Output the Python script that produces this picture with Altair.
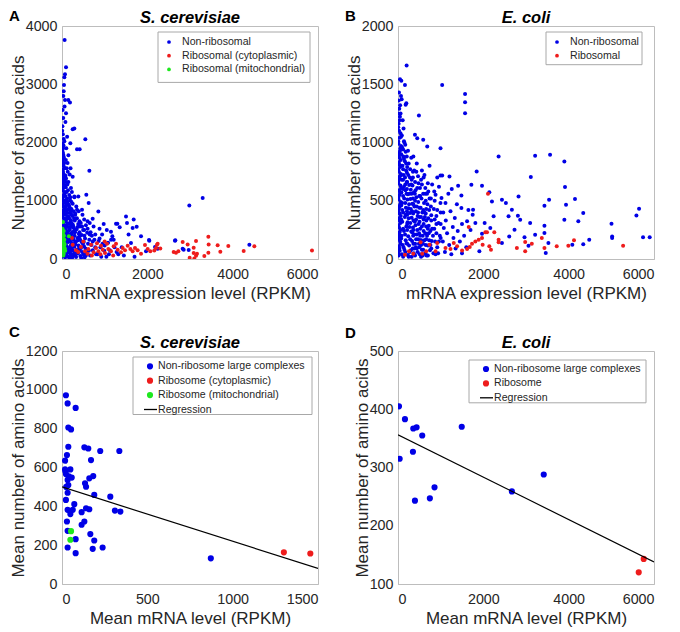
import altair as alt
import pandas as pd

# ---------------- data ----------------
# Panel A: S. cerevisiae, individual proteins (mRNA RPKM, number of amino acids)
A_nonribosomal = [
    (8, 40), (30, 95), (15, 150), (45, 205), (10, 260), (35, 320), (20, 375), (50, 430), (12, 490), (38, 545),
    (22, 600), (55, 655), (8, 710), (32, 770), (18, 825), (48, 880), (12, 940), (36, 1000), (20, 1060), (52, 1115),
    (10, 1175), (30, 1235), (16, 1290), (44, 1350), (8, 1410), (28, 1470), (14, 1530), (40, 1590), (20, 1650),
    (10, 1710), (34, 1770), (18, 1830), (26, 1900), (12, 1980), (40, 2060), (20, 2140), (10, 2280), (30, 2420),
    (15, 2560), (50, 1650), (60, 1380), (55, 1250),
    (62, 3760), (94, 3291), (70, 3171), (55, 3120), (47, 2989), (31, 2800), (70, 2731), (148, 2731), (187, 2686),
    (94, 2503), (250, 2229), (289, 2240), (195, 1989), (547, 2057), (352, 1886), (414, 1886), (641, 1514),
    (250, 1411), (120, 2100), (80, 2350), (60, 2620), (40, 2880), (100, 1900), (150, 1780), (130, 1650),
    (200, 1560), (180, 1450),
    (75, 30), (105, 90), (85, 150), (115, 210), (70, 270), (100, 330), (80, 395), (110, 450), (72, 515), (98, 575),
    (88, 640), (118, 700), (76, 760), (104, 825), (84, 890), (112, 950), (92, 1015), (78, 1080), (108, 1150),
    (86, 1230), (100, 1320), (82, 1430), (110, 1560), (90, 1700),
    (150, 40), (185, 100), (160, 165), (200, 225), (145, 290), (175, 350), (205, 415), (155, 480), (190, 540),
    (165, 600), (210, 665), (148, 730), (182, 790), (200, 860), (160, 930), (190, 1010), (170, 1100), (210, 1220),
    (150, 1320),
    (240, 25), (275, 90), (250, 150), (290, 210), (235, 275), (265, 340), (295, 400), (245, 465), (280, 530),
    (255, 590), (300, 660), (240, 740), (270, 820), (250, 950), (290, 1060), (232, 1150),
    (330, 35), (370, 100), (345, 160), (390, 230), (325, 290), (360, 360), (395, 430), (340, 510), (380, 600),
    (350, 700), (390, 820), (335, 900), (383, 1074), (352, 846), (289, 1074),
    (430, 50), (470, 120), (445, 190), (490, 260), (425, 330), (460, 410), (495, 500), (440, 620), (480, 760),
    (469, 846),
    (530, 30), (580, 110), (550, 180), (610, 260), (540, 350), (590, 450), (560, 580), (570, 1103), (625, 960),
    (600, 650),
    (660, 60), (720, 150), (690, 240), (760, 330), (670, 460), (740, 560), (719, 691), (700, 400), (780, 200),
    (830, 80), (900, 200), (860, 310), (940, 420), (852, 817), (977, 600), (880, 520), (990, 140), (920, 40),
    (1040, 40), (1120, 150), (1080, 280), (1180, 390), (1148, 469), (1266, 606), (1211, 330), (1280, 120),
    (1050, 500),
    (1352, 543), (1500, 731), (1523, 617), (1680, 680), (1656, 531), (1617, 274), (1852, 389), (2047, 314),
    (2648, 314), (2984, 920), (3297, 1046), (2852, 160), (4391, 246), (2242, 177), (1969, 131), (1400, 200),
    (1560, 420), (1750, 554), (2039, 326), (1297, 605), (2180, 206), (2656, 320), (2828, 177), (2969, 154),
    (1320, 80), (1450, 60), (1700, 40),
    # denser fill of the crowded corner
    (5, 70), (25, 130), (40, 180), (60, 240), (18, 300), (50, 350), (28, 400), (62, 460), (5, 520), (45, 570),
    (30, 630), (65, 690), (15, 740), (42, 800), (60, 850), (25, 910), (55, 970), (5, 1030), (38, 1090),
    (62, 1150), (25, 1210), (58, 1270), (35, 1320), (5, 1380), (48, 1440), (22, 1500), (60, 1560), (30, 1620),
    (5, 1680), (45, 1740), (25, 1800), (8, 1860), (35, 1950), (55, 2020), (5, 2200),
    (95, 60), (125, 120), (135, 180), (95, 240), (130, 300), (120, 370), (140, 430), (92, 490), (128, 550),
    (135, 610), (95, 670), (130, 730), (120, 790), (140, 850), (96, 920), (130, 980), (120, 1040), (140, 1180),
    (125, 1280), (95, 1380), (135, 1500),
    (175, 20), (215, 70), (195, 130), (170, 190), (220, 250), (190, 310), (165, 380), (225, 440), (180, 505),
    (218, 570), (195, 630), (170, 695), (225, 760), (205, 820), (172, 900), (222, 980), (195, 1060),
    (260, 60), (300, 120), (225, 180), (275, 245), (310, 300), (250, 370), (220, 430), (300, 490), (265, 560),
    (225, 620), (285, 700), (310, 780), (220, 860),
    (310, 60), (355, 130), (400, 190), (310, 250), (375, 320), (415, 390), (305, 460), (365, 550), (410, 650),
    (310, 760), (420, 560),
    (450, 20), (500, 80), (410, 150), (515, 220), (460, 290), (410, 460), (525, 400), (470, 560), (520, 680),
    (560, 60), (630, 140), (510, 290), (640, 330), (600, 520), (520, 500), (650, 420),
    (780, 420), (800, 80), (720, 300), (650, 620), (880, 350), (950, 260), (1000, 230), (1100, 80), (1150, 330),
    (1230, 200),
]
A_ribo_cyto = [
    (250, 246), (328, 149), (445, 206), (539, 131), (617, 171), (680, 246), (742, 114), (797, 189), (852, 131),
    (914, 229), (953, 160), (1008, 103), (1055, 263), (1086, 171), (1148, 131), (1211, 217), (1266, 263),
    (1305, 160), (1383, 114), (1422, 189), (1477, 149), (1539, 229), (1602, 171), (1656, 131), (1711, 189),
    (1773, 149), (1852, 91), (1945, 240), (2008, 171), (2070, 131), (2203, 189), (2242, 263), (234, 360),
    (2226, 245), (2164, 148), (2304, 182), (2617, 120), (2672, 109), (2727, 131), (2828, 292), (2945, 250),
    (3086, 194), (3141, 309), (3086, 102), (3164, 91), (3141, 57), (2992, 22), (3101, 10), (3430, 382),
    (3437, 250), (3430, 108), (3336, 51), (3648, 234), (3711, 125), (3898, 222), (4258, 137), (4508, 217),
    (5859, 148), (380, 120), (600, 90), (700, 60), (900, 80), (1200, 60), (1000, 300), (500, 300), (820, 270),
]
A_ribo_mito = [
    (23, 634), (40, 480), (20, 440), (45, 400), (15, 370), (35, 340), (25, 300), (50, 270), (18, 240), (38, 210),
    (28, 180), (48, 150), (20, 120), (40, 90), (30, 60), (55, 330), (60, 250), (12, 520), (65, 180), (75, 140),
    (30, 400), (45, 200), (160, 390),
]

# Panel B: E. coli, individual proteins
B_nonribosomal = [
    (15, 30), (40, 70), (20, 110), (50, 150), (10, 190), (35, 230), (25, 270), (55, 310), (12, 350), (42, 390),
    (22, 430), (52, 470), (14, 510), (38, 550), (28, 590), (58, 630), (10, 670), (44, 710), (20, 750), (50, 790),
    (16, 830), (36, 870), (26, 910), (56, 950), (12, 990), (40, 1040), (24, 1100), (15, 1160), (45, 1220),
    (30, 1290), (18, 1360), (23, 1429), (47, 1543), (78, 1529), (202, 1660), (163, 1494), (86, 1371),
    (179, 1323), (195, 1337), (60, 1250), (110, 1190), (130, 1120), (90, 1060), (150, 1000),
    (90, 40), (150, 80), (110, 120), (180, 160), (85, 200), (140, 240), (195, 280), (100, 320), (160, 360),
    (120, 400), (185, 440), (95, 480), (145, 520), (200, 560), (115, 600), (170, 640), (90, 680), (135, 720),
    (190, 760), (105, 800), (160, 840), (125, 880), (180, 920), (95, 960), (140, 1010),
    (230, 35), (300, 75), (260, 115), (330, 155), (240, 195), (310, 235), (270, 275), (225, 315), (320, 355),
    (280, 395), (245, 435), (335, 475), (290, 515), (230, 555), (300, 595), (260, 635), (320, 680), (240, 720),
    (285, 770), (250, 820), (310, 870), (235, 930), (397, 1066), (451, 1037), (490, 1231),
    (370, 50), (440, 90), (400, 130), (470, 170), (380, 210), (450, 250), (410, 290), (365, 330), (460, 370),
    (420, 410), (385, 450), (475, 490), (430, 530), (370, 570), (450, 610), (400, 660), (470, 710), (380, 760),
    (440, 820), (360, 880),
    (510, 40), (590, 80), (540, 120), (620, 160), (520, 200), (600, 240), (560, 280), (505, 320), (630, 360),
    (570, 400), (530, 440), (610, 480), (550, 520), (640, 560), (515, 610), (591, 1023), (685, 966), (600, 700),
    (560, 760),
    (670, 30), (750, 75), (700, 115), (790, 155), (680, 200), (760, 240), (720, 285), (665, 330), (780, 375),
    (730, 420), (690, 470), (770, 520), (710, 580), (800, 640), (740, 800),
    (830, 50), (920, 100), (870, 150), (980, 200), (850, 260), (950, 310), (900, 370), (840, 430), (995, 480),
    (880, 551), (960, 620), (996, 951), (920, 700),
    (1035, 1494), (1572, 1417), (1572, 1346), (1572, 1251), (2358, 880), (3214, 886), (3564, 894), (3899, 837),
    (3914, 617), (3113, 703), (1844, 751), (1206, 709), (996, 717), (1035, 717), (1409, 629), (1486, 546),
    (1720, 637), (1969, 629), (2140, 574), (2825, 537), (2436, 509), (1759, 423), (2202, 494), (3541, 509),
    (3432, 457), (3938, 466), (4148, 514), (4342, 394), (4226, 323), (3899, 337), (3097, 309), (2864, 337),
    (2810, 371), (2669, 423), (2529, 480), (2591, 366), (2731, 251), (3214, 209), (3432, 286), (3432, 223),
    (3525, 137), (3463, 51), (4086, 123), (4342, 126), (4482, 166), (5004, 303), (5019, 194), (5019, 180),
    (5588, 374), (5650, 431), (5743, 186), (5899, 186), (2436, 137), (2607, 194), (2965, 186), (3058, 114),
    (2163, 266), (2031, 309), (1969, 217), (1907, 66), (2241, 366), (1813, 309), (1619, 323), (1486, 437),
    (1331, 351), (1230, 409), (1113, 480), (1019, 523), (1284, 274), (1074, 266),
    (1050, 150), (1100, 60), (1150, 220), (1200, 120), (1250, 40), (1300, 180), (1350, 90), (1400, 240),
    (1450, 150), (1500, 300), (1550, 200), (1600, 100), (1700, 250), (1750, 380), (1650, 420), (1380, 470),
    (1180, 560), (1120, 330), (1060, 400), (1260, 600), (1500, 50),
    # denser fill of the crowded corner
    (5, 50), (30, 90), (60, 130), (5, 170), (25, 210), (62, 250), (8, 290), (40, 330), (65, 370), (5, 410),
    (35, 450), (66, 490), (5, 530), (48, 570), (70, 610), (5, 650), (30, 690), (65, 730), (5, 770), (32, 810),
    (64, 850), (5, 890), (48, 930), (70, 970), (5, 1010), (58, 1080), (5, 1130), (35, 1190), (8, 1250),
    (50, 1320), (70, 1400),
    (120, 20), (170, 60), (130, 100), (200, 135), (75, 175), (165, 210), (120, 260), (215, 300), (75, 340),
    (180, 380), (100, 420), (210, 410), (75, 460), (170, 480), (120, 540), (80, 570), (175, 590), (140, 620),
    (205, 660), (120, 680), (165, 700), (75, 720), (210, 740), (120, 770), (75, 800), (190, 820), (140, 860),
    (75, 900), (205, 880), (120, 940), (170, 980), (70, 1050),
    (250, 20), (275, 60), (345, 90), (215, 130), (285, 170), (355, 200), (215, 250), (350, 270), (290, 310),
    (250, 350), (355, 390), (215, 380), (300, 430), (260, 470), (220, 510), (350, 520), (320, 560), (270, 560),
    (210, 600), (340, 630), (280, 700), (215, 660), (350, 750), (215, 790),
    (400, 30), (460, 60), (420, 100), (360, 130), (490, 130), (425, 170), (360, 250), (495, 220), (440, 210),
    (485, 300), (425, 340), (500, 360), (360, 400), (440, 450), (500, 440), (400, 500), (360, 470), (500, 540),
    (410, 590), (480, 650), (350, 700), (430, 750),
    (540, 20), (640, 50), (560, 80), (500, 100), (585, 130), (650, 120), (545, 160), (580, 200), (640, 220),
    (520, 260), (600, 300), (660, 280), (540, 360), (600, 340), (660, 430), (590, 420), (650, 500), (520, 540),
    (590, 560), (560, 640), (640, 610),
    (700, 30), (780, 90), (730, 160), (660, 170), (720, 220), (800, 260), (650, 390), (710, 350), (770, 450),
    (740, 520), (680, 560),
    (880, 40), (960, 150), (900, 220), (1000, 300), (860, 340), (920, 420), (860, 500), (1000, 400),
    (320, 20), (380, 90), (330, 230), (395, 320), (330, 410), (395, 560), (310, 640), (470, 400), (520, 160),
    (580, 30), (620, 400), (700, 260), (760, 120), (820, 200), (850, 580), (900, 300), (940, 50), (1000, 180),
    (780, 330), (700, 650), (620, 720), (540, 680),
]
B_ribosomal = [
    (2109, 560), (1658, 274), (2047, 229), (2086, 229), (2257, 229), (2358, 166), (2358, 143), (1969, 180),
    (1984, 123), (2140, 109), (2179, 80), (1813, 151), (1735, 131), (1681, 103), (1619, 86), (1502, 74),
    (1385, 109), (1307, 137), (1230, 86), (1113, 94), (880, 66), (661, 66), (568, 46), (358, 46), (163, 37),
    (257, 66), (529, 143), (739, 123), (918, 137), (2786, 94), (2981, 146), (3136, 131), (3370, 180),
    (3432, 94), (2981, 66), (3720, 109), (3992, 114), (4125, 160), (5276, 114), (1891, 166),
]

# Panel C: S. cerevisiae complexes (mean mRNA, mean amino acids)
C_complexes = [
    (23, 972), (33, 930), (80, 907), (37, 806), (53, 796), (37, 707), (29, 664), (18, 635), (131, 704),
    (154, 698), (224, 685), (336, 685), (170, 638), (18, 590), (49, 590), (23, 566), (57, 548), (33, 536),
    (183, 556), (160, 544), (135, 519), (141, 501), (37, 510), (33, 470), (189, 459), (283, 450), (23, 433),
    (72, 411), (33, 382), (63, 382), (49, 360), (115, 370), (141, 390), (160, 385), (310, 378), (342, 373),
    (29, 322), (131, 322), (115, 305), (33, 274), (166, 257), (80, 231), (189, 224), (33, 188), (180, 181),
    (238, 188), (80, 159), (872, 132), (20, 580), (25, 500), (40, 555),
]
C_ribo_cyto = [(1300, 163), (1455, 157)]
C_ribo_mito = [(53, 272), (49, 228)]
C_regression = [(0, 500), (1500, 80)]

# Panel D: E. coli complexes
D_complexes = [
    (23, 405), (39, 315), (163, 383), (358, 367), (436, 369), (350, 327), (568, 355), (397, 243), (747, 247),
    (856, 266), (1494, 370), (2669, 259), (3416, 288),
]
D_ribosome = [(5759, 143), (5642, 120)]
D_regression = [(0, 356), (6000, 138)]

# ---------------- styling ----------------
FONT = "Liberation Sans"
TXT = "#262626"
BOX = "#bdbdbd"
BLUE = "#0000e6"
RED = "#ee1c1c"
GREEN = "#1ee81e"
W, H = 256, 233
one = pd.DataFrame({"k": [0]})


def xenc(dom, ticks, title):
    return alt.X("x:Q", scale=alt.Scale(domain=dom, nice=False, zero=False),
                 axis=alt.Axis(values=ticks, title=title, format="d"))


def yenc(dom, ticks, title):
    return alt.Y("y:Q", scale=alt.Scale(domain=dom, nice=False, zero=False),
                 axis=alt.Axis(values=ticks, title=title, format="d"))


def legend_layers(x0, x1, y0, rows, dot_size, row_h, top_pad, bottom_pad, dot_dx, text_dx):
    y1 = y0 + top_pad + row_h * (len(rows) - 1) + bottom_pad
    out = [alt.Chart(one).mark_rect(fill="white", stroke="#a8a8a8", strokeWidth=1).encode(
        x=alt.value(x0), x2=alt.value(x1), y=alt.value(y0), y2=alt.value(y1))]
    for i, (label, color, sym) in enumerate(rows):
        yy = y0 + top_pad + row_h * i
        if sym == "dot":
            out.append(alt.Chart(one).mark_circle(size=dot_size, color=color, opacity=1).encode(
                x=alt.value(x0 + dot_dx), y=alt.value(yy)))
        else:
            out.append(alt.Chart(one).mark_rule(color="black", strokeWidth=1.3).encode(
                x=alt.value(x0 + dot_dx - 6), x2=alt.value(x0 + text_dx - 1), y=alt.value(yy)))
        out.append(alt.Chart(one).mark_text(align="left", baseline="middle", font=FONT, fontSize=10.6,
                                            color=TXT).encode(
            x=alt.value(x0 + text_dx), y=alt.value(yy), text=alt.value(label)))
    return out


def panel(letter, letter_y, title, groups, xdom, xticks, xtitle, ydom, yticks, ytitle, size, legend, reg=None):
    X = xenc(xdom, xticks, xtitle)
    Y = yenc(ydom, yticks, ytitle)
    layers = []
    for pts, color in groups:
        df = pd.DataFrame(pts, columns=["x", "y"])
        layers.append(alt.Chart(df).mark_circle(size=size, color=color, opacity=1, clip=True).encode(x=X, y=Y))
    if reg is not None:
        rdf = pd.DataFrame(reg, columns=["x", "y"])
        layers.append(alt.Chart(rdf).mark_line(color="black", strokeWidth=1.2, clip=True).encode(x=X, y=Y))
    layers += legend
    layers.append(alt.Chart(one).mark_text(align="left", baseline="alphabetic", font=FONT, fontSize=15,
                                           fontWeight="bold", color="black").encode(
        x=alt.value(-53), y=alt.value(letter_y), text=alt.value(letter)))
    layers.append(alt.Chart(one).mark_text(align="center", baseline="alphabetic", font=FONT, fontSize=16.5,
                                           fontStyle="italic", fontWeight="bold", color="black").encode(
        x=alt.value(W / 2), y=alt.value(-3), text=alt.value(title)))
    return alt.layer(*layers).properties(width=W, height=H)


legA = legend_layers(96, 248, 6, [("Non-ribosomal", BLUE, "dot"), ("Ribosomal (cytoplasmic)", RED, "dot"),
                                  ("Ribosomal (mitochondrial)", GREEN, "dot")], 14, 13.7, 10, 13, 11, 24)
legB = legend_layers(148, 244, 6, [("Non-ribosomal", BLUE, "dot"), ("Ribosomal", RED, "dot")], 14, 13.7,
                     10, 9, 11, 24)
legC = legend_layers(71, 250, 6, [("Non-ribosome large complexes", BLUE, "dot"),
                                  ("Ribosome (cytoplasmic)", RED, "dot"),
                                  ("Ribosome (mitochondrial)", GREEN, "dot"),
                                  ("Regression", "black", "line")], 38, 14.4, 9.3, 5, 17, 25)
legD = legend_layers(71, 248, 9, [("Non-ribosome large complexes", BLUE, "dot"),
                                  ("Ribosome", RED, "dot"),
                                  ("Regression", "black", "line")], 38, 14.4, 9, 5, 17, 25)

pA = panel("A", -5, "S. cerevisiae", [(A_nonribosomal, BLUE), (A_ribo_cyto, RED), (A_ribo_mito, GREEN)],
           [0, 6000], [0, 2000, 4000, 6000], "mRNA expression level (RPKM)",
           [0, 4000], [0, 1000, 2000, 3000, 4000], "Number of amino acids", 16, legA)
pB = panel("B", -5, "E. coli", [(B_nonribosomal, BLUE), (B_ribosomal, RED)],
           [0, 6000], [0, 2000, 4000, 6000], "mRNA expression level (RPKM)",
           [0, 2000], [0, 500, 1000, 1500, 2000], "Number of amino acids", 16, legB)
pC = panel("C", -14, "S. cerevisiae", [(C_complexes, BLUE), (C_ribo_cyto, RED), (C_ribo_mito, GREEN)],
           [0, 1500], [0, 500, 1000, 1500], "Mean mRNA level (RPKM)",
           [0, 1200], [0, 200, 400, 600, 800, 1000, 1200], "Mean number of amino acids", 38, legC,
           reg=C_regression)
pD = panel("D", -13, "E. coli", [(D_complexes, BLUE), (D_ribosome, RED)],
           [0, 6000], [0, 2000, 4000, 6000], "Mean mRNA level (RPKM)",
           [100, 500], [100, 200, 300, 400, 500], "Mean number of amino acids", 38, legD,
           reg=D_regression)

chart = alt.vconcat(
    alt.hconcat(pA, pB, spacing=25),
    alt.hconcat(pC, pD, spacing=25),
    spacing=22,
).properties(padding=0).configure_view(stroke=BOX, strokeWidth=1).configure_axis(
    labelFont=FONT, labelFontSize=14.3, labelColor=TXT, titleFont=FONT, titleFontSize=17,
    titleColor=TXT, titleFontWeight="normal", domainColor=BOX, tickSize=0, grid=False,
    labelPadding=5, titlePadding=-2,
).configure_axisX(labelPadding=8, titlePadding=4)

chart.save("out.html", embed_options={"renderer": "svg", "actions": False})
